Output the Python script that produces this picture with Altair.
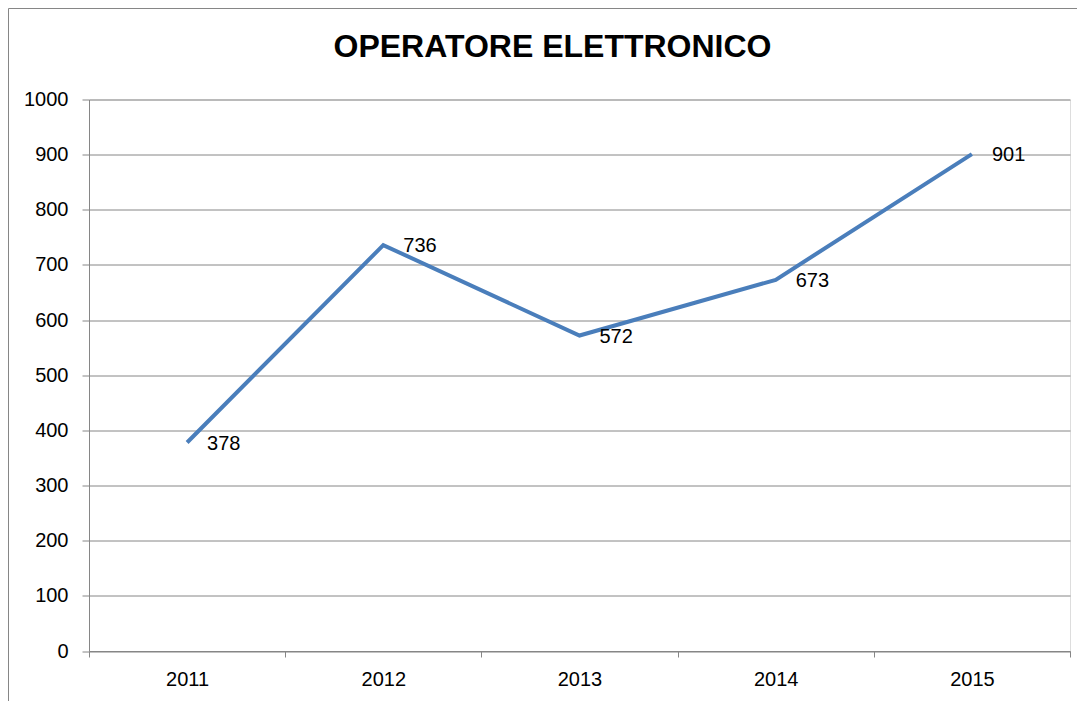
import altair as alt
import pandas as pd

years = ["2011", "2012", "2013", "2014", "2015"]
values = [378, 736, 572, 673, 901]
title_text = "OPERATORE ELETTRONICO"

df = pd.DataFrame({"anno": years, "valore": values})

FONT = "Liberation Sans"
GRAY = "#868686"
BLUE = "#4a7ebb"

x_enc = alt.X(
    "anno:N",
    sort=years,
    scale=alt.Scale(type="band", paddingInner=0, paddingOuter=0),
    axis=alt.Axis(
        title=None,
        labelAngle=0,
        tickBand="extent",
        grid=False,
        domainColor=GRAY,
        tickColor=GRAY,
        tickSize=6,
        labelPadding=12,
        labelFont=FONT,
        labelFontSize=20,
        labelColor="#000000",
    ),
)
y_enc = alt.Y(
    "valore:Q",
    scale=alt.Scale(domain=[0, 1000], nice=False, zero=True),
    axis=alt.Axis(
        title=None,
        values=list(range(0, 1001, 100)),
        format="d",
        grid=True,
        gridColor=GRAY,
        domainColor=GRAY,
        tickColor=GRAY,
        tickSize=7,
        labelPadding=14,
        labelFont=FONT,
        labelFontSize=20,
        labelColor="#000000",
    ),
)

base = alt.Chart(df)

line = base.mark_line(color=BLUE, strokeWidth=4).encode(x=x_enc, y=y_enc)

labels = base.mark_text(
    align="left", baseline="middle", dx=20, dy=1, font=FONT, fontSize=20, color="#000000"
).encode(x=alt.X("anno:N", sort=years), y="valore:Q", text="valore:Q")

border = alt.Chart(pd.DataFrame({"a": [0]})).mark_rect(
    fill="transparent", stroke=GRAY, strokeWidth=1, clip=False
).encode(
    x=alt.value(-80.5), x2=alt.value(1100), y=alt.value(-91), y2=alt.value(700)
)

chart = (
    alt.layer(border, line, labels)
    .properties(
        width=981,
        height=551.5,
        title=alt.TitleParams(
            title_text,
            font=FONT,
            fontSize=32,
            fontWeight="bold",
            color="#000000",
            anchor="middle",
            dx=-27,
            offset=-80.5,
            baseline="alphabetic",
        ),
        autosize=alt.AutoSizeParams(type="none"),
        padding={"left": 81, "top": 91.5, "right": 7, "bottom": 50},
    )
    .configure_view(stroke=None)
    .configure(background="#ffffff")
)

chart.save("out.html", embed_options={"renderer": "svg", "actions": False})
